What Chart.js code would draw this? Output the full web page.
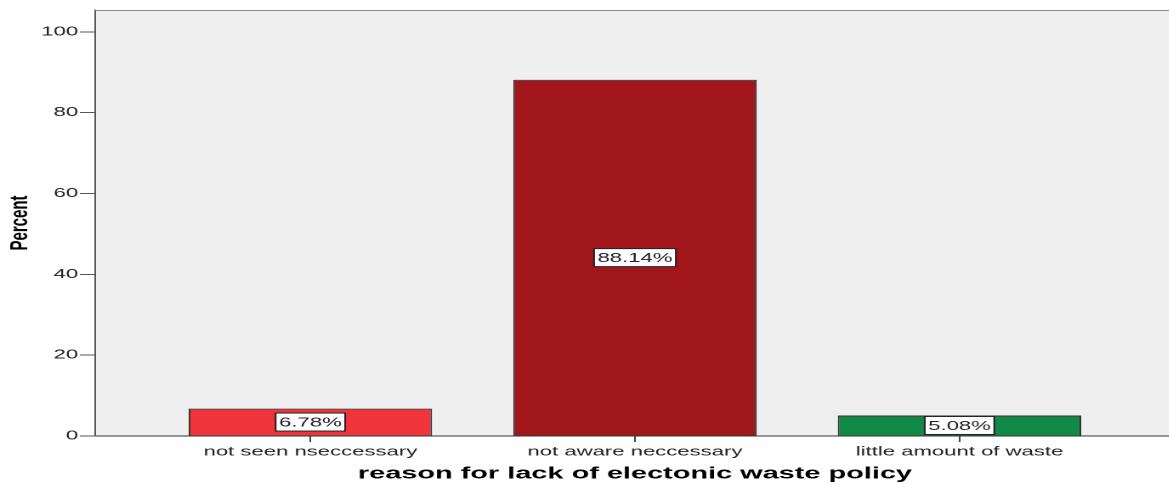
<!DOCTYPE html>
<html>
<head>
<meta charset="utf-8">
<script src="https://cdn.jsdelivr.net/npm/chart.js@4/dist/chart.umd.min.js"></script>
<style>
html,body{margin:0;padding:0;overflow:hidden;background:#fff;width:1169px;height:485px;}
#wrap{width:691px;height:485px;transform:scaleX(1.7);transform-origin:0 0;}
</style>
</head>
<body>
<div id="wrap"><canvas id="c" width="691" height="485"></canvas></div>
<script>
const categories = ['not seen nseccessary', 'not aware neccessary', 'little amount of waste'];
const percents = [6.78, 88.14, 5.08];
const valueLabels = ['6.78%', '88.14%', '5.08%'];
const barColors = ['#f0343b', '#a1161b', '#118a47'];
const yTicks = [0, 20, 40, 60, 80, 100];
const xTitle = 'reason for lack of electonic waste policy';
const yTitle = 'Percent';

Chart.defaults.font.family = 'Arial, "Liberation Sans", sans-serif';

const plotDecor = {
  id: 'plotDecor',
  beforeDraw(chart) {
    const {ctx, chartArea: a} = chart;
    ctx.save();
    ctx.fillStyle = '#efefef';
    ctx.fillRect(a.left, a.top, a.right - a.left, a.bottom - a.top);
    ctx.restore();
  },
  afterDraw(chart) {
    const {ctx, chartArea: a} = chart;
    ctx.save();
    ctx.strokeStyle = '#8a8a8a';
    ctx.lineWidth = 1;
    ctx.beginPath();
    ctx.moveTo(a.left, a.top + 0.5);
    ctx.lineTo(a.right, a.top + 0.5);
    ctx.stroke();
    const meta = chart.getDatasetMeta(0);
    ctx.font = '13px Arial, "Liberation Sans", sans-serif';
    ctx.textAlign = 'center';
    ctx.textBaseline = 'middle';
    meta.data.forEach((el, i) => {
      const txt = valueLabels[i];
      const cx = el.x, cy = (el.y + el.base) / 2;
      const w = ctx.measureText(txt).width + 4, h = 18;
      ctx.fillStyle = '#ffffff';
      ctx.fillRect(cx - w / 2, cy - h / 2, w, h);
      ctx.strokeStyle = '#222';
      ctx.lineWidth = 1;
      ctx.strokeRect(cx - w / 2, cy - h / 2, w, h);
      ctx.fillStyle = '#222';
      ctx.fillText(txt, cx, cy + 1);
    });
    ctx.restore();
  }
};

new Chart(document.getElementById('c'), {
  type: 'bar',
  data: {
    datasets: [{
      data: percents.map((v, i) => ({x: i, y: v})),
      backgroundColor: barColors,
      borderColor: '#333',
      borderWidth: 1,
      barPercentage: 0.75,
      categoryPercentage: 1
    }]
  },
  options: {
    responsive: false,
    animation: false,
    devicePixelRatio: 2,
    layout: {padding: {top: 10, left: 0, right: 0, bottom: 0}},
    plugins: {legend: {display: false}, tooltip: {enabled: false}},
    scales: {
      x: {
        type: 'linear',
        min: -0.663,
        max: 2.663,
        offset: false,
        afterBuildTicks: s => { s.ticks = categories.map((c, i) => ({value: i})); },
        afterFit: s => { s.height = 49; },
        grid: {drawOnChartArea: false, offset: false, tickLength: 6, color: '#444'},
        border: {color: '#333', width: 1},
        ticks: {
          autoSkip: false, maxRotation: 0, padding: 2,
          color: '#222', font: {size: 13},
          callback: v => categories[v]
        },
        title: {display: true, text: xTitle, color: '#000', font: {size: 17, weight: 'bold'}, padding: {top: 0, bottom: 1}}
      },
      y: {
        min: 0,
        max: 105.4,
        afterBuildTicks: s => { s.ticks = yTicks.map(v => ({value: v})); },
        afterFit: s => { s.width = 56; },
        grid: {drawOnChartArea: false, tickLength: 9, color: '#555'},
        border: {color: '#555', width: 1},
        ticks: {color: '#222', font: {size: 13}, padding: 1},
        title: {display: true, text: yTitle, color: '#000', font: {size: 15, weight: 'bold'}, padding: {top: 3, bottom: 0}}
      }
    }
  },
  plugins: [plotDecor]
});
</script>
</body>
</html>
